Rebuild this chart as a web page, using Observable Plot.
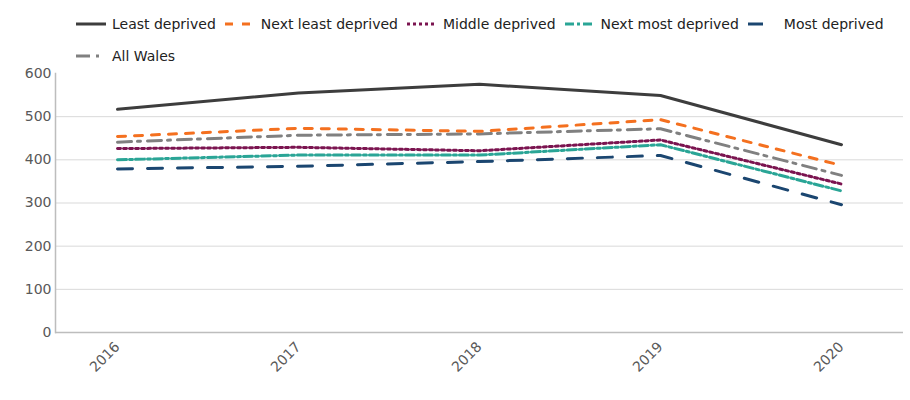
<!DOCTYPE html>
<html>
<head>
<meta charset="utf-8">
<script src="https://cdn.jsdelivr.net/npm/d3@7"></script>
<script src="https://cdn.jsdelivr.net/npm/@observablehq/plot@0.6"></script>
<style>
  body { margin: 0; background: #fff; font-family: "DejaVu Sans", sans-serif; }
  #wrap { position: relative; width: 910px; height: 400px; }
  #legend { position: relative; height: 58px; font-size: 14px; color: #222; }
  .row { position: absolute; left: 76px; height: 32px; display: flex; align-items: center; gap: 9px; }
  .item { display: flex; align-items: center; gap: 6px; white-space: nowrap; }
  .item svg { display: block; }
  #chart svg { display: block; overflow: visible; }
</style>
</head>
<body>
<div id="wrap">
  <div id="legend"></div>
  <div id="chart"></div>
</div>
<script>
// ---- data ----
const years = ["2016", "2017", "2018", "2019", "2020"];
const leastDeprived     = [517, 555, 575, 549, 435];
const nextLeastDeprived = [454, 473, 466, 493, 387];
const middleDeprived    = [426, 429, 421, 446, 344];
const nextMostDeprived  = [400, 411, 411, 435, 328];
const mostDeprived      = [379, 385, 396, 410, 296];
const allWales          = [441, 457, 460, 472, 364];
const seriesNames = ["Least deprived", "Next least deprived", "Middle deprived", "Next most deprived", "Most deprived", "All Wales"];
const seriesValues = [leastDeprived, nextLeastDeprived, middleDeprived, nextMostDeprived, mostDeprived, allWales];
const yTicks = [0, 100, 200, 300, 400, 500, 600];

// ---- styles ----
const colors = ["#3d3d3d", "#f4701f", "#7b1450", "#2aa596", "#1b4670", "#808080"];
const dashes = ["none", "8,9", "3,3", "9,3,3,3", "15,15", "14,6,3,7"];

const rows = [];
seriesNames.forEach((name, i) => {
  years.forEach((yr, j) => rows.push({series: name, year: yr, value: seriesValues[i][j]}));
});

// ---- legend ----
const legend = document.getElementById("legend");
const rowDefs = [[0, 1, 2, 3, 4], [5]];
rowDefs.forEach((idxs, r) => {
  const row = document.createElement("div");
  row.className = "row";
  row.style.top = (8 + r * 32) + "px";
  idxs.forEach(i => {
    const item = document.createElement("div");
    item.className = "item";
    item.innerHTML = `<svg width="30" height="6"><line x1="0" y1="3" x2="30" y2="3" stroke="${colors[i]}" stroke-width="3" ${dashes[i] !== "none" ? `stroke-dasharray="${dashes[i]}"` : ""}/></svg><span>${seriesNames[i]}</span>`;
    row.appendChild(item);
  });
  legend.appendChild(row);
});

// ---- chart ----
const drawOrder = [5, 4, 3, 2, 1, 0];
const chart = Plot.plot({
  width: 910,
  height: 342,
  marginTop: 15,
  marginLeft: 55,
  marginRight: 7,
  marginBottom: 68,
  style: {fontFamily: "DejaVu Sans", fontSize: "14px", color: "#595959", background: "#fff"},
  x: {type: "point", domain: years, padding: 0.33, label: null},
  y: {domain: [0, 600], label: null},
  marks: [
    Plot.gridY(yTicks.filter(d => d > 0 && d < 600), {stroke: "#d9d9d9", strokeOpacity: 1, strokeWidth: 1}),
    Plot.ruleY([0], {stroke: "#bdbdbd", strokeWidth: 1.5}),
    Plot.frame({anchor: "left", stroke: "#bdbdbd", strokeWidth: 1.5}),
    Plot.axisY(yTicks, {tickSize: 0, tickPadding: 4, fontSize: 14, fill: "#595959", label: null}),
    Plot.axisX(years, {tickSize: 0, tickPadding: 12, tickRotate: -45, fontSize: 14, fill: "#595959", label: null}),
    ...drawOrder.map(i => Plot.line(rows.filter(d => d.series === seriesNames[i]), {
      x: "year", y: "value",
      stroke: colors[i], strokeWidth: 3,
      strokeDasharray: dashes[i] === "none" ? null : dashes[i],
      curve: "linear"
    }))
  ]
});
document.getElementById("chart").appendChild(chart);
</script>
</body>
</html>
